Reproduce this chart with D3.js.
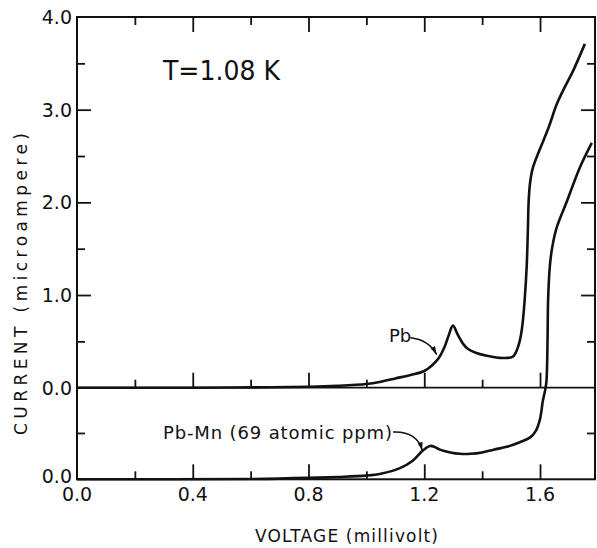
<!doctype html>
<html lang="en">
<head>
<meta charset="utf-8">
<title>Pb / Pb-Mn tunneling I-V</title>
<style>
  body { margin: 0; background: #fff; }
  svg { display: block; }
  text { font-family: "DejaVu Sans", sans-serif; fill: #111; }
  .curve { fill: none; stroke: #111; stroke-width: 2.6; stroke-linejoin: round; }
</style>
</head>
<body>
<svg id="chart" width="597" height="548"></svg>
<script src="https://d3js.org/d3.v7.min.js"></script>
<script>
// ---- data (voltage in mV, current in microampere) ----
const pbVoltage = [0.0, 0.4, 0.6, 0.8, 0.9, 1.0, 1.05, 1.1, 1.15, 1.2, 1.23, 1.25, 1.27, 1.285, 1.299,
  1.316, 1.335, 1.35, 1.38, 1.416, 1.47, 1.506, 1.523, 1.533, 1.54, 1.547, 1.554, 1.558, 1.561,
  1.566, 1.575, 1.599, 1.63, 1.658, 1.685, 1.713, 1.755];
const pbCurrent = [0, 0, 0.003, 0.01, 0.02, 0.04, 0.065, 0.1, 0.135, 0.18, 0.25, 0.32, 0.44, 0.57, 0.67,
  0.57, 0.47, 0.42, 0.375, 0.345, 0.32, 0.335, 0.43, 0.55, 0.7, 0.95, 1.31, 1.7, 2.03,
  2.22, 2.37, 2.57, 2.81, 3.06, 3.24, 3.41, 3.71];

// Pb-Mn is drawn on the lower panel, measured from its own zero line
const pbmnVoltage = [0.0, 0.6, 0.8, 0.9, 1.0, 1.05, 1.116, 1.16, 1.195, 1.22, 1.235, 1.254, 1.29, 1.323,
  1.36, 1.4, 1.44, 1.485, 1.53, 1.565, 1.585, 1.6, 1.61, 1.617, 1.622, 1.626, 1.628, 1.634, 1.642,
  1.658, 1.693, 1.737, 1.779];
const pbmnCurrent = [0, 0.003, 0.015, 0.025, 0.04, 0.06, 0.12, 0.2, 0.31, 0.36, 0.35, 0.32, 0.29, 0.275,
  0.275, 0.29, 0.32, 0.35, 0.4, 0.45, 0.52, 0.65, 0.85, 0.95, 1.05, 1.5, 1.94, 2.3, 2.5,
  2.72, 3.0, 3.36, 3.63];

const xMajor = [0.4, 0.8, 1.2, 1.6];
const xMinor = [0.2, 0.6, 1.0, 1.4];
const xTickLabels = ["0.0", "0.4", "0.8", "1.2", "1.6"];
const xLabelValues = [0.0, 0.4, 0.8, 1.2, 1.6];
const yMajorUpper = [1.0, 2.0, 3.0];
const yMinorUpper = [0.5, 1.5, 2.5, 3.5];
const yLabelsUpper = ["0.0", "1.0", "2.0", "3.0", "4.0"];
const yLabelValuesUpper = [0, 1, 2, 3, 4];
const yMinorLower = [0.5];

// ---- layout ----
const svg = d3.select("#chart");
const L = 77, R = 595, T = 17, MID = 387.7, B = 479.3;
const unit = (MID - T) / 4;
const INK = "#111";

const x = d3.scaleLinear().domain([0, 1.79]).range([L, R]);
const y = d3.scaleLinear().domain([0, 4]).range([MID, T]);
const yLow = d3.scaleLinear().domain([0, 4]).range([B, B - 4 * unit]);

// ticks via d3 axes (no domain line, no labels), pointing into the plot
function ticks(axis, tx, ty) {
  const g = svg.append("g").attr("transform", `translate(${tx},${ty})`)
    .style("color", INK).call(axis);
  g.select(".domain").remove();
  g.selectAll("text").remove();
  g.selectAll("line").attr("stroke", INK).attr("stroke-width", 1.8);
}
const noLab = () => "";
ticks(d3.axisBottom(x).tickValues(xMajor).tickSize(15).tickFormat(noLab), 0, T);
ticks(d3.axisBottom(x).tickValues(xMinor).tickSize(8).tickFormat(noLab), 0, T);
[MID, B].forEach(yy => {
  ticks(d3.axisTop(x).tickValues(xMajor).tickSize(15).tickFormat(noLab), 0, yy);
  ticks(d3.axisTop(x).tickValues(xMinor).tickSize(8).tickFormat(noLab), 0, yy);
});
ticks(d3.axisRight(y).tickValues(yMajorUpper).tickSize(14).tickFormat(noLab), L, 0);
ticks(d3.axisRight(y).tickValues(yMinorUpper).tickSize(8).tickFormat(noLab), L, 0);
ticks(d3.axisLeft(y).tickValues(yMajorUpper).tickSize(14).tickFormat(noLab), R, 0);
ticks(d3.axisLeft(y).tickValues(yMinorUpper).tickSize(8).tickFormat(noLab), R, 0);
ticks(d3.axisRight(yLow).tickValues(yMinorLower).tickSize(8).tickFormat(noLab), L, 0);
ticks(d3.axisLeft(yLow).tickValues(yMinorLower).tickSize(8).tickFormat(noLab), R, 0);

// frame + middle zero line
svg.append("rect").attr("x", L).attr("y", T).attr("width", R - L).attr("height", B - T)
  .attr("fill", "none").attr("stroke", INK).attr("stroke-width", 2);
svg.append("path").attr("d", `M${L},${MID}H${R}`).attr("fill", "none")
  .attr("stroke", INK).attr("stroke-width", 1.8);

// curves
const lineGen = (ys) => d3.line().x(d => x(d[0])).y(d => ys(d[1])).curve(d3.curveCatmullRom.alpha(0.5));
svg.append("path").attr("class", "curve")
  .attr("d", lineGen(y)(d3.zip(pbVoltage, pbCurrent)));
svg.append("path").attr("class", "curve")
  .attr("d", lineGen(yLow)(d3.zip(pbmnVoltage, pbmnCurrent)));

// tick labels
const lab = svg.append("g").attr("font-size", 19);
yLabelValuesUpper.forEach((v, i) => {
  lab.append("text").attr("x", L - 5).attr("y", y(v)).attr("dy", "0.36em")
    .attr("text-anchor", "end").text(yLabelsUpper[i]);
});
lab.append("text").attr("x", L - 5).attr("y", yLow(0)).attr("dy", "0.2em")
  .attr("text-anchor", "end").text("0.0");
xLabelValues.forEach((v, i) => {
  lab.append("text").attr("x", x(v)).attr("y", 501)
    .attr("text-anchor", "middle").text(xTickLabels[i]);
});

// axis titles
svg.append("text").attr("x", 255).attr("y", 542).attr("font-size", 17)
  .attr("textLength", 183).attr("lengthAdjust", "spacing").text("VOLTAGE (millivolt)");
svg.append("text").attr("transform", "translate(27,435) rotate(-90)").attr("font-size", 17)
  .attr("textLength", 302).attr("lengthAdjust", "spacing").text("CURRENT (microampere)");

// annotations
svg.append("text").attr("x", 163).attr("y", 80).attr("font-size", 26)
  .attr("textLength", 117).attr("lengthAdjust", "spacingAndGlyphs").text("T=1.08 K");
svg.append("text").attr("x", 389).attr("y", 342).attr("font-size", 18).text("Pb");
svg.append("text").attr("x", 163).attr("y", 439).attr("font-size", 18)
  .attr("textLength", 229).attr("lengthAdjust", "spacing").text("Pb-Mn (69 atomic ppm)");

svg.append("defs").append("marker")
  .attr("id", "arrow").attr("viewBox", "0 0 10 6").attr("refX", 10).attr("refY", 3)
  .attr("markerWidth", 11).attr("markerHeight", 5).attr("markerUnits", "userSpaceOnUse")
  .attr("orient", "auto")
  .append("path").attr("d", "M0,0 L10,3 L0,6 Z").attr("fill", INK);

const arrow = (x0, y0, cx, cy, x1, y1) =>
  svg.append("path").attr("fill", "none").attr("stroke", INK).attr("stroke-width", 1.5)
    .attr("marker-end", "url(#arrow)")
    .attr("d", `M${x0},${y0} Q${cx},${cy} ${x1},${y1}`);
arrow(x(1.152), y(0.54), x(1.215), y(0.52), x(1.243), y(0.357));
arrow(x(1.092), yLow(0.51), x(1.175), yLow(0.52), x(1.193), yLow(0.31));
</script>
</body>
</html>
